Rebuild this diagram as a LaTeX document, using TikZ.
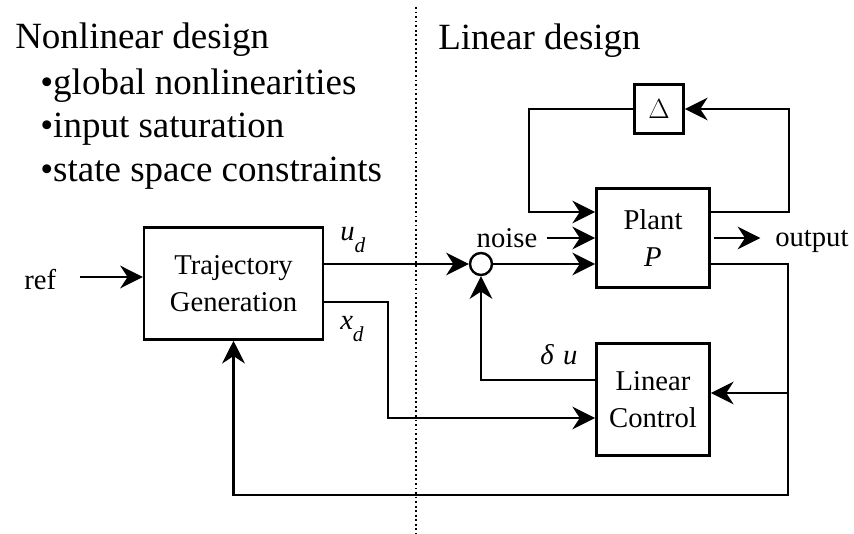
\documentclass[tikz,border=0pt]{standalone}
\usepackage{fontspec}
\setmainfont{Liberation Serif}
\usetikzlibrary{arrows.meta,positioning,calc}
\newcommand{\lsub}[1]{\raisebox{-0.4em}{\fontsize{16}{16}\selectfont\textit{#1}}}

\begin{document}
\begin{tikzpicture}[x=0.75pt, y=-0.75pt,
  blk/.style={draw, line width=1.9pt, inner sep=0pt, align=center, font=\fontsize{21.5}{27.5}\selectfont},
  lbl/.style={inner sep=0pt, font=\fontsize{21.5}{27.5}\selectfont},
  head/.style={inner sep=0pt, anchor=base west, font=\fontsize{27.75}{33}\selectfont},
  arr/.style={line width=1.8pt, -{Stealth[length=17pt, width=17pt, inset=5.5pt]}},
  wire/.style={line width=1.8pt}]
\useasboundingbox (0,0) rectangle (854,534);
% headings
\node[head] (nld) at (15,49) {Nonlinear design};
\node[head] (b1) at (40,95) {•global nonlinearities};
\node[head] (b2) at (40,138) {•input saturation};
\node[head] (b3) at (40,182) {•state space constraints};
\node[head] (ld) at (438,50) {Linear design};
\draw[dotted, line width=1.4pt] (416,7) -- (416,534);
% blocks
\node[blk, minimum width=134pt, minimum height=84pt] (tg) at (233.5,283.5) {Trajectory\\Generation};
\node[blk, minimum width=85pt, minimum height=74pt] (plant) at (653,238) {Plant\\\textit{P}};
\node[blk, minimum size=37pt] (delta) at (659,109) {$\Delta$};
\node[blk, minimum width=85pt, minimum height=84pt] (lc) at (653,399.5) {Linear\\Control};
\node[draw, circle, line width=1.8pt, inner sep=0pt, minimum size=16.5pt] (sum) at (481,264) {};
% labels
\node[lbl, anchor=base west] (ref) at (24,290) {ref};
\node[lbl] (noise) at (507,238) {noise};
\node[lbl, anchor=base west] (out) at (775,247) {output};
\node[lbl, anchor=base west] (ud) at (340,241) {\textit{u}\lsub{d}};
\node[lbl, anchor=base west] (xd) at (340,330) {\textit{x}\lsub{d}};
\node[lbl, anchor=base west] (du) at (540,365) {\textit{δ\,\,u}};
\coordinate (refin) at (80,277);
\coordinate (br) at (788,495);
\coordinate (tap) at (788,393);
% connectors
\draw[arr] (refin) -- (refin -| tg.west);
\draw[arr] (tg.east |- sum) -- (sum.west);
\draw[arr] (sum.east) -- (sum -| plant.west);
\draw[arr] ($(noise.east)+(9,0)$) -- (plant.west);
\draw[arr, shorten <=2pt, shorten >=11pt] (plant.east) -- (plant.east -| out.west);
\draw[arr] ($(tg.east)+(0,18.5)$) -- ++(64,0) |- ($(lc.west)+(0,18.5)$);
\draw[arr] ($(lc.west)+(0,-19.5)$) -| (sum.south);
\draw[arr] ($(plant.east)+(0,-26)$) -- ++(78,0) |- (delta.east);
\draw[arr] (delta.west) -- ++(-104,0) |- ($(plant.west)+(0,-26)$);
\draw[arr] ($(plant.east)+(0,26)$) -| (br) -| (tg.south);
\draw[arr] (tap) -- (tap -| lc.east);
\end{tikzpicture}
\end{document}
